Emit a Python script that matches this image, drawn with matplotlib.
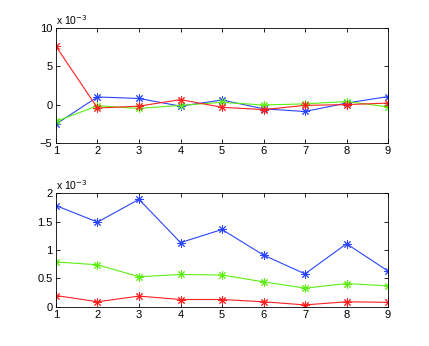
import matplotlib
matplotlib.use('Agg')
import matplotlib.pyplot as plt

plt.rcParams['font.family'] = ['Liberation Sans', 'DejaVu Sans']

x = [1, 2, 3, 4, 5, 6, 7, 8, 9]

# top panel (units of 1e-3)
top_blue = [-2.55, 1.0, 0.8, -0.2, 0.6, -0.55, -0.9, 0.2, 1.05]
top_green = [-2.2, -0.15, -0.5, -0.1, 0.3, -0.05, 0.1, 0.4, -0.3]
top_red = [7.6, -0.45, -0.2, 0.65, -0.35, -0.65, -0.1, 0.0, 0.2]

# bottom panel (units of 1e-3)
bot_blue = [1.78, 1.49, 1.89, 1.13, 1.36, 0.91, 0.58, 1.11, 0.63]
bot_green = [0.79, 0.74, 0.53, 0.57, 0.56, 0.44, 0.33, 0.41, 0.37]
bot_red = [0.20, 0.09, 0.19, 0.13, 0.13, 0.09, 0.035, 0.09, 0.08]

BLUE = '#2a45ff'
GREEN = '#5cee10'
RED = '#ff2020'

fig = plt.figure(figsize=(4.29, 3.46), dpi=100)
ax1 = fig.add_axes([0.1305, 0.587, 0.774, 0.332])
ax2 = fig.add_axes([0.1305, 0.113, 0.774, 0.329])


def style(ax, ylim, yticks, yticklabels):
    ax.set_xlim(1, 9)
    ax.set_xticks(x)
    ax.set_ylim(*ylim)
    ax.set_yticks(yticks)
    ax.set_yticklabels(yticklabels)
    ax.tick_params(direction='in', length=3, width=0.6, labelsize=8,
                   top=True, right=True, pad=2.5)
    for s in ax.spines.values():
        s.set_linewidth(0.6)
    ax.text(0.0, 1.01, r'x 10$^{-3}$', transform=ax.transAxes,
            fontsize=7.5, ha='left', va='bottom')


# MATLAB-style asterisk marker
kw = dict(marker=(8, 2, 0), markersize=6, linewidth=0.8, markeredgewidth=0.7)
ax1.plot(x, top_blue, color=BLUE, **kw)
ax1.plot(x, top_green, color=GREEN, **kw)
ax1.plot(x, top_red, color=RED, **kw)
style(ax1, (-5, 10), [-5, 0, 5, 10], ['\u22125', '0', '5', '10'])

ax2.plot(x, bot_blue, color=BLUE, **kw)
ax2.plot(x, bot_green, color=GREEN, **kw)
ax2.plot(x, bot_red, color=RED, **kw)
style(ax2, (0, 2), [0, 0.5, 1, 1.5, 2], ['0', '0.5', '1', '1.5', '2'])

fig.savefig('out.png', dpi=100)
